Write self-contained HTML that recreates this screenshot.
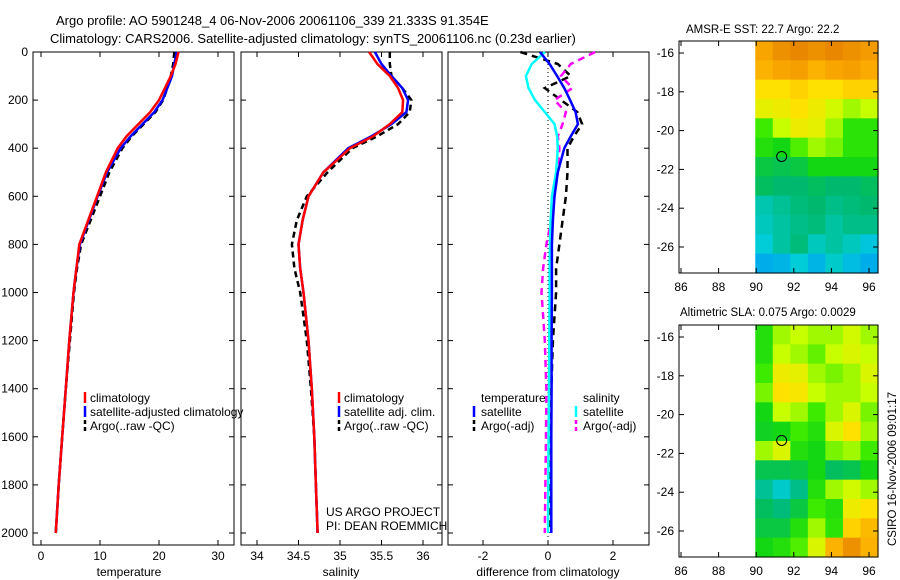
<!DOCTYPE html>
<html><head><meta charset="utf-8"><style>
body{margin:0;background:#fff}
svg{display:block;font-family:"Liberation Sans",sans-serif;font-size:12px}
</style></head><body>
<svg id="c" width="900" height="580" viewBox="0 0 900 580">
<text x="56" y="25" font-size="13">Argo profile: AO 5901248_4 06-Nov-2006 20061106_339 21.333S 91.354E</text>
<text x="50" y="43" font-size="13">Climatology: CARS2006. Satellite-adjusted climatology: synTS_20061106.nc (0.23d earlier)</text>
<text x="686" y="33" font-size="11.5">AMSR-E SST: 22.7  Argo: 22.2</text>
<text x="680" y="316" font-size="11.5">Altimetric SLA: 0.075 Argo: 0.0029</text>
<text transform="translate(896,546) rotate(-90)" font-size="11.5">CSIRO 16-Nov-2006 09:01:17</text>
<g id="g"></g>
</svg>
<script>
// ---- data ----
const depths=[0,50,100,150,200,250,300,350,400,500,600,700,800,900,1000,1200,1400,1600,1800,2000];
const tempClim=[23.3,22.8,22,21,20,18.5,16.5,14.5,13,11,9.5,8,6.5,6,5.5,4.8,4.2,3.6,3.0,2.5];
const tempSat=[23.0,22.6,22.2,21.4,20.6,19.2,17.2,15.2,13.5,11.2,9.6,8.1,6.6,6.0,5.5,4.8,4.2,3.6,3.0,2.5];
const tempArgo=[22.6,22.4,22.0,21.4,20.7,19.4,17.4,15.4,13.8,11.6,10.0,8.4,6.8,6.1,5.6,4.9,4.2,3.6,3.0,2.5];
const salClim=[35.35,35.45,35.6,35.7,35.76,35.75,35.6,35.4,35.12,34.8,34.62,34.55,34.5,34.52,34.56,34.62,34.66,34.69,34.71,34.73];
const salSat=[35.42,35.5,35.62,35.75,35.82,35.8,35.62,35.38,35.1,34.8,34.62,34.55,34.5,34.52,34.56,34.62,34.66,34.69,34.71,34.73];
const salArgo=[35.6,35.6,35.62,35.75,35.86,35.84,35.7,35.45,35.15,34.85,34.6,34.48,34.42,34.45,34.52,34.6,34.65,34.69,34.71,34.73];
const dTempSat=[-0.25,0.05,0.28,0.5,0.68,0.85,0.92,0.7,0.5,0.3,0.2,0.15,0.12,0.12,0.12,0.11,0.11,0.1,0.1,0.1];
const dSalSat=[-0.1,-0.5,-0.68,-0.6,-0.4,-0.1,0.2,0.28,0.3,0.25,0.12,0.08,0.06,0.05,0.05,0.04,0.03,0.02,0.01,0.0];
const dTempArgo=[-0.85,0.3,0.7,-0.1,0.4,0.9,1.05,0.8,0.6,0.6,0.55,0.45,0.35,0.25,0.25,0.15,0.1,0.08,0.06,0.06];
const dSalArgo=[1.45,0.7,0.4,0.75,0.2,0.55,0.45,0.3,0.35,0.3,0.2,0.1,-0.05,-0.15,-0.2,-0.1,-0.05,-0.06,-0.08,-0.1];
const tempTicks=[0,10,20,30], salTicks=[34,34.5,35,35.5,36], diffTicks=[-2,0,2];
const depthTicks=[0,200,400,600,800,1000,1200,1400,1600,1800,2000];
const lonTicks=[86,88,90,92,94,96], latTicks=[-16,-18,-20,-22,-24,-26];
const sstGrid=[
[.76,.8,.82,.8,.82,.8,.78],[.74,.76,.77,.74,.76,.77,.75],[.68,.68,.7,.68,.68,.7,.7],
[.65,.66,.68,.66,.63,.6,.62],[.55,.62,.66,.65,.6,.53,.53],[.52,.5,.56,.6,.58,.53,.53],
[.47,.46,.47,.5,.5,.5,.5],[.45,.44,.44,.45,.44,.44,.45],[.39,.41,.43,.44,.42,.43,.44],
[.38,.4,.42,.43,.4,.42,.42],[.36,.4,.43,.38,.4,.38,.35],[.32,.33,.36,.33,.37,.34,.32]];
const slaGrid=[
[.52,.6,.62,.6,.6,.63,.6],[.52,.62,.6,.57,.62,.64,.62],[.55,.66,.65,.6,.58,.6,.64],
[.58,.68,.67,.62,.6,.6,.62],[.5,.62,.6,.55,.6,.64,.58],[.49,.5,.55,.52,.64,.68,.6],
[.6,.64,.52,.5,.58,.6,.55],[.46,.46,.47,.5,.45,.46,.5],[.41,.37,.42,.52,.6,.63,.6],
[.45,.43,.47,.55,.52,.66,.68],[.47,.47,.52,.6,.53,.7,.73],[.5,.52,.56,.64,.74,.8,.74]];
const floatLon=91.354, floatLat=-21.333;

// ---- drawing ----
const NS='http://www.w3.org/2000/svg', G=document.getElementById('g');
function mk(t,a,p){const e=document.createElementNS(NS,t);for(const k in a)e.setAttribute(k,a[k]);(p||G).appendChild(e);return e;}
const yD=d=>52+d*0.2405;
function panel(x0,x1,name,xs,ticks,fmt,label,lx){
  const f=mk('rect',{x:x0,y:52,width:x1-x0,height:493,fill:'none',stroke:'#000'});
  
  
  ticks.forEach(t=>{const x=xs(t);
    mk('line',{x1:x,x2:x,y1:545,y2:540,stroke:'#000'});mk('line',{x1:x,x2:x,y1:52,y2:57,stroke:'#000'});
    const tx=mk('text',{x:x,y:560,'text-anchor':'middle'});tx.textContent=fmt(t);
    
    });
  depthTicks.forEach(d=>{const y=yD(d);mk('line',{x1:x0,x2:x0+5,y1:y,y2:y,stroke:'#000'});mk('line',{x1:x1,x2:x1-5,y1:y,y2:y,stroke:'#000'});});
  const l=mk('text',{x:lx,y:576,'text-anchor':'middle'});l.textContent=label;
  
  
}
function line(xs,vals,col,dash,name,w){
  const p=mk('polyline',{points:vals.map((v,i)=>xs(v).toFixed(1)+','+yD(depths[i]).toFixed(1)).join(' '),fill:'none',stroke:col,'stroke-width':w||2.5,'stroke-dasharray':dash||'none'});
  
  
}
function txt(x,y,s,name,a){const t=mk('text',Object.assign({x:x,y:y},a||{}));t.textContent=s;
  
  return t;}
function key(x,y,col,dash){mk('line',{x1:x,x2:x,y1:y-10,y2:y+1,stroke:col,'stroke-width':2.5,'stroke-dasharray':dash||'none'});}

const xT=v=>41+v*5.9, xS=v=>257+(v-34)*83, xDf=v=>548+v*32.5;
panel(33,234,'temperature-panel',xT,tempTicks,String,'temperature',129);
depthTicks.forEach(d=>txt(28,yD(d)+4,String(d),'depth-tick-label',{'text-anchor':'end'}));
line(xT,tempArgo,'#000','6 4','temp-argo-line');
line(xT,tempSat,'#00f',null,'temp-satellite-line');
line(xT,tempClim,'#f00',null,'temp-climatology-line');
key(85,402,'#f00');txt(90,402,'climatology','legend-climatology');
key(85,416,'#00f');txt(90,416,'satellite-adjusted climatology','legend-satellite');
key(85,430,'#000','4 3');txt(90,430,'Argo(..raw -QC)','legend-argo');
panel(241,442,'salinity-panel',xS,salTicks,String,'salinity',341);
line(xS,salArgo,'#000','6 4','sal-argo-line');
line(xS,salSat,'#00f',null,'sal-satellite-line');
line(xS,salClim,'#f00',null,'sal-climatology-line');
key(339,402,'#f00');txt(344,402,'climatology','legend-sal-climatology');
key(339,416,'#00f');txt(344,416,'satellite adj. clim.','legend-sal-satellite');
key(339,430,'#000','4 3');txt(344,430,'Argo(..raw -QC)','legend-sal-argo');
txt(326,516,'US ARGO PROJECT','project-label');
txt(326,530,'PI: DEAN ROEMMICH','pi-label');
panel(448,649,'difference-panel',xDf,diffTicks,String,'difference from climatology',548);
mk('line',{x1:xDf(0),x2:xDf(0),y1:52,y2:545,stroke:'#000','stroke-dasharray':'1 3'});
line(xDf,dTempArgo,'#000','7 5','diff-temp-argo-line');
line(xDf,dSalArgo,'#f0f','7 5','diff-sal-argo-line');
line(xDf,dSalSat,'#0ff',null,'diff-sal-satellite-line');
line(xDf,dTempSat,'#00f',null,'diff-temp-satellite-line');
txt(481,402,'temperature','legend-diff-temperature');txt(583,402,'salinity','legend-diff-salinity');
key(474,416,'#00f');txt(481,416,'satellite','legend-diff-temp-sat');
key(474,430,'#000','4 3');txt(481,430,'Argo(-adj)','legend-diff-temp-argo');
key(576,416,'#0ff');txt(583,416,'satellite','legend-diff-sal-sat');
key(576,430,'#f0f','4 3');txt(583,430,'Argo(-adj)','legend-diff-sal-argo');

// colormap matching the reference palette
const cmStops=[[0.28,[0,140,255]],[0.36,[0,205,215]],[0.44,[0,185,110]],[0.5,[20,215,20]],[0.55,[60,235,0]],
 [0.62,[200,255,0]],[0.68,[255,225,0]],[0.75,[250,170,0]],[0.85,[225,120,0]]];
function cmap(v){
  if(v<=cmStops[0][0])return 'rgb('+cmStops[0][1]+')';
  for(let i=1;i<cmStops.length;i++){if(v<=cmStops[i][0]){const a=cmStops[i-1],b=cmStops[i],t=(v-a[0])/(b[0]-a[0]);
    return 'rgb('+a[1].map((c,k)=>Math.round(c+(b[1][k]-c)*t)).join(',')+')';}}
  return 'rgb('+cmStops[cmStops.length-1][1]+')';}
function map(top,name,grid){
  const lonX=l=>681+(l-86)*18.8, latY=l=>top+12+(-16-l)*19.4;
  const topLat=-16+12/19.4, botLat=-16-(232-12)/19.4;
  const g=mk('g',{});
  const rows=grid.length, cols=grid[0].length, lon0=89.95, lon1=96.48;
  grid.forEach((row,i)=>row.forEach((v,j)=>{
    const xa=lonX(lon0+(lon1-lon0)*j/cols), xb=lonX(lon0+(lon1-lon0)*(j+1)/cols);
    const ya=latY(topLat+(botLat-topLat)*i/rows), yb=latY(topLat+(botLat-topLat)*(i+1)/rows);
    const r=mk('rect',{x:xa,y:ya,width:xb-xa+0.6,height:yb-ya+0.6,fill:cmap(v)},g);
    
    }));
  mk('rect',{x:679,y:top,width:199,height:232,fill:'none',stroke:'#000'});
  lonTicks.forEach(l=>{const x=lonX(l);mk('line',{x1:x,x2:x,y1:top+232,y2:top+227,stroke:'#000'});mk('line',{x1:x,x2:x,y1:top,y2:top+5,stroke:'#000'});
    txt(x,top+250,String(l),name+'-lon-tick',{'text-anchor':'middle'});});
  latTicks.forEach(l=>{const y=latY(l);mk('line',{x1:679,x2:684,y1:y,y2:y,stroke:'#000'});mk('line',{x1:878,x2:873,y1:y,y2:y,stroke:'#000'});
    txt(674,y+4,String(l),name+'-lat-tick',{'text-anchor':'end'});});
  const m=mk('circle',{cx:lonX(floatLon),cy:latY(floatLat),r:5,fill:'none',stroke:'#000'});
  
  
}
map(41,'sst-map',sstGrid);
map(325,'sla-map',slaGrid);
</script>
</body></html>
